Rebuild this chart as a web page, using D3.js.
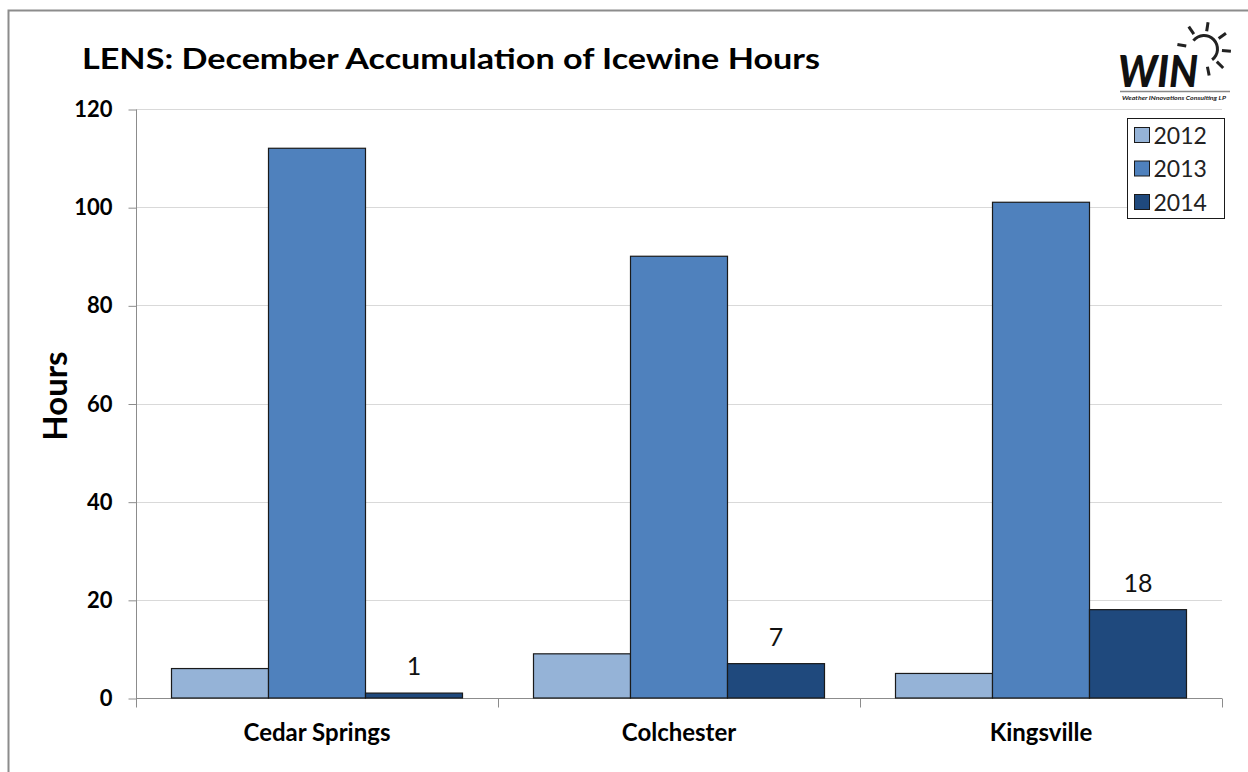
<!DOCTYPE html>
<html>
<head>
<meta charset="utf-8">
<script src="https://cdn.jsdelivr.net/npm/d3@7"></script>
<style>
  body { margin: 0; background: #fff; }
  svg { display: block; font-family: Lato, 'Open Sans', sans-serif; }
</style>
</head>
<body>
<div id="chart"></div>
<script>
const categories = ['Cedar Springs', 'Colchester', 'Kingsville'];
const years = ['2012', '2013', '2014'];
const values2012 = [6, 9, 5];
const values2013 = [112, 90, 101];
const values2014 = [1, 7, 18];
const yTicks = [0, 20, 40, 60, 80, 100, 120];
const labelledYear = '2014';

const colors = {
  '2012': '#95b3d7',
  '2013': '#4f81bd',
  '2014': '#1f497d',
};

const seriesValues = { '2012': values2012, '2013': values2013, '2014': values2014 };

const width = 1248;
const height = 772;
const margin = { top: 109, right: 26, bottom: 74, left: 136 };

const svg = d3.select('#chart')
  .append('svg')
  .attr('width', width)
  .attr('height', height);

// outer frame (runs past the right/bottom edge like the screenshot)
svg.append('rect')
  .attr('x', 8.5)
  .attr('y', 10.5)
  .attr('width', 1260)
  .attr('height', 780)
  .attr('fill', 'none')
  .attr('stroke', '#8c8c8c')
  .attr('stroke-width', 2);

const x0 = d3.scaleBand()
  .domain(categories)
  .range([margin.left, width - margin.right]);

const x1 = d3.scaleBand()
  .domain(years)
  .range([0, x0.bandwidth()])
  .paddingInner(0)
  .paddingOuter(0.366);

const y = d3.scaleLinear()
  .domain([0, 120])
  .range([height - margin.bottom, margin.top]);

// gridlines
svg.append('g')
  .selectAll('line')
  .data(yTicks.filter(d => d > 0))
  .join('line')
  .attr('x1', margin.left)
  .attr('x2', width - margin.right)
  .attr('y1', d => Math.round(y(d)) + 0.5)
  .attr('y2', d => Math.round(y(d)) + 0.5)
  .attr('stroke', '#d9d9d9');

// y axis
const yAxis = svg.append('g')
  .attr('transform', `translate(${margin.left + 0.5}, 0.5)`)
  .call(d3.axisLeft(y).tickValues(yTicks).tickSize(8).tickPadding(16));
yAxis.select('.domain').attr('stroke', '#8c8c8c').attr('d', `M0,${y(120)}V${y(0)}`);
yAxis.selectAll('.tick line').attr('stroke', '#8c8c8c');
yAxis.selectAll('.tick text')
  .attr('font-family', 'Lato, sans-serif')
  .attr('font-size', 22)
  .attr('font-weight', 'bold')
  .attr('fill', '#000');

// x axis
const xAxis = svg.append('g')
  .attr('transform', `translate(0, ${y(0) + 0.5})`);
xAxis.append('line')
  .attr('x1', margin.left)
  .attr('x2', width - margin.right)
  .attr('stroke', '#8c8c8c');
xAxis.selectAll('.xtick')
  .data([categories[0]].concat(categories))
  .join('line')
  .attr('x1', (d, i) => (i === 0 ? x0(d) : x0(d) + x0.bandwidth()) + 0.5)
  .attr('x2', (d, i) => (i === 0 ? x0(d) : x0(d) + x0.bandwidth()) + 0.5)
  .attr('y1', 0)
  .attr('y2', 9)
  .attr('stroke', '#8c8c8c');
xAxis.selectAll('text')
  .data(categories)
  .join('text')
  .attr('x', d => x0(d) + x0.bandwidth() / 2)
  .attr('y', 42)
  .attr('text-anchor', 'middle')
  .attr('font-size', 24)
  .attr('font-weight', 'bold')
  .text(d => d);

// bars
const groups = svg.append('g')
  .selectAll('g')
  .data(categories)
  .join('g')
  .attr('transform', d => `translate(${x0(d)}, 0)`);

groups.selectAll('rect')
  .data((d, i) => years.map(yr => ({ year: yr, value: seriesValues[yr][i] })))
  .join('rect')
  .attr('x', d => x1(d.year))
  .attr('y', d => y(d.value))
  .attr('width', x1.bandwidth())
  .attr('height', d => y(0) - y(d.value))
  .attr('fill', d => colors[d.year])
  .attr('stroke', '#1a1a1a')
  .attr('stroke-width', 1.2);

groups.selectAll('.label')
  .data((d, i) => [{ year: labelledYear, value: seriesValues[labelledYear][i] }])
  .join('text')
  .attr('class', 'label')
  .attr('x', d => x1(d.year) + x1.bandwidth() / 2)
  .attr('y', d => y(d.value) - 18)
  .attr('text-anchor', 'middle')
  .attr('font-size', 25)
  .attr('fill', '#111')
  .text(d => d.value);

// title
svg.append('text')
  .attr('x', 82)
  .attr('y', 69)
  .attr('font-size', 28)
  .attr('font-weight', 'bold')
  .attr('textLength', 738)
  .attr('lengthAdjust', 'spacingAndGlyphs')
  .text('LENS: December Accumulation of Icewine Hours');

// y axis title
svg.append('text')
  .attr('transform', 'translate(67, 396) rotate(-90)')
  .attr('text-anchor', 'middle')
  .attr('font-size', 33)
  .attr('font-weight', 'bold')
  .text('Hours');

// legend
const legend = svg.append('g')
  .attr('transform', 'translate(1127.5, 118.5)');
legend.append('rect')
  .attr('width', 97)
  .attr('height', 100)
  .attr('fill', '#fff')
  .attr('stroke', '#1a1a1a')
  .attr('stroke-width', 1);
const legendItem = legend.selectAll('.item')
  .data(years)
  .join('g')
  .attr('class', 'item')
  .attr('transform', (d, i) => `translate(7, ${9 + i * 33.5})`);
legendItem.append('rect')
  .attr('width', 15)
  .attr('height', 15)
  .attr('fill', d => colors[d])
  .attr('stroke', '#1a1a1a');
legendItem.append('text')
  .attr('x', 19)
  .attr('y', 16)
  .attr('font-size', 23)
  .attr('fill', '#222')
  .text(d => d);

// WIN logo
const logo = svg.append('g');
logo.append('text')
  .attr('x', 1118)
  .attr('y', 87)
  .attr('font-size', 44)
  .attr('font-weight', 900)
  .attr('font-style', 'italic')
  .attr('textLength', 80)
  .attr('lengthAdjust', 'spacingAndGlyphs')
  .attr('fill', '#111')
  .text('WIN');
const sunCx = 1204;
const sunCy = 49;
logo.append('path')
  .attr('d', d3.arc()({ innerRadius: 12, outerRadius: 15, startAngle: -0.9, endAngle: 2.5 }))
  .attr('transform', `translate(${sunCx}, ${sunCy})`)
  .attr('fill', '#222');
const rays = [-1.4, -0.6, 0.15, 0.95, 1.65, 2.35, 2.95];
logo.selectAll('.ray')
  .data(rays)
  .join('line')
  .attr('x1', a => sunCx + Math.sin(a) * 18)
  .attr('y1', a => sunCy - Math.cos(a) * 18)
  .attr('x2', a => sunCx + Math.sin(a) * 27)
  .attr('y2', a => sunCy - Math.cos(a) * 27)
  .attr('stroke', '#222')
  .attr('stroke-width', 3);
logo.append('line')
  .attr('x1', 1120)
  .attr('x2', 1230)
  .attr('y1', 91.5)
  .attr('y2', 91.5)
  .attr('stroke', '#888')
  .attr('stroke-width', 1.5);
logo.append('text')
  .attr('x', 1122)
  .attr('y', 100)
  .attr('font-size', 6)
  .attr('font-weight', 'bold')
  .attr('font-style', 'italic')
  .attr('textLength', 104)
  .attr('lengthAdjust', 'spacingAndGlyphs')
  .attr('fill', '#222')
  .text('Weather INnovations Consulting LP');
</script>
</body>
</html>
